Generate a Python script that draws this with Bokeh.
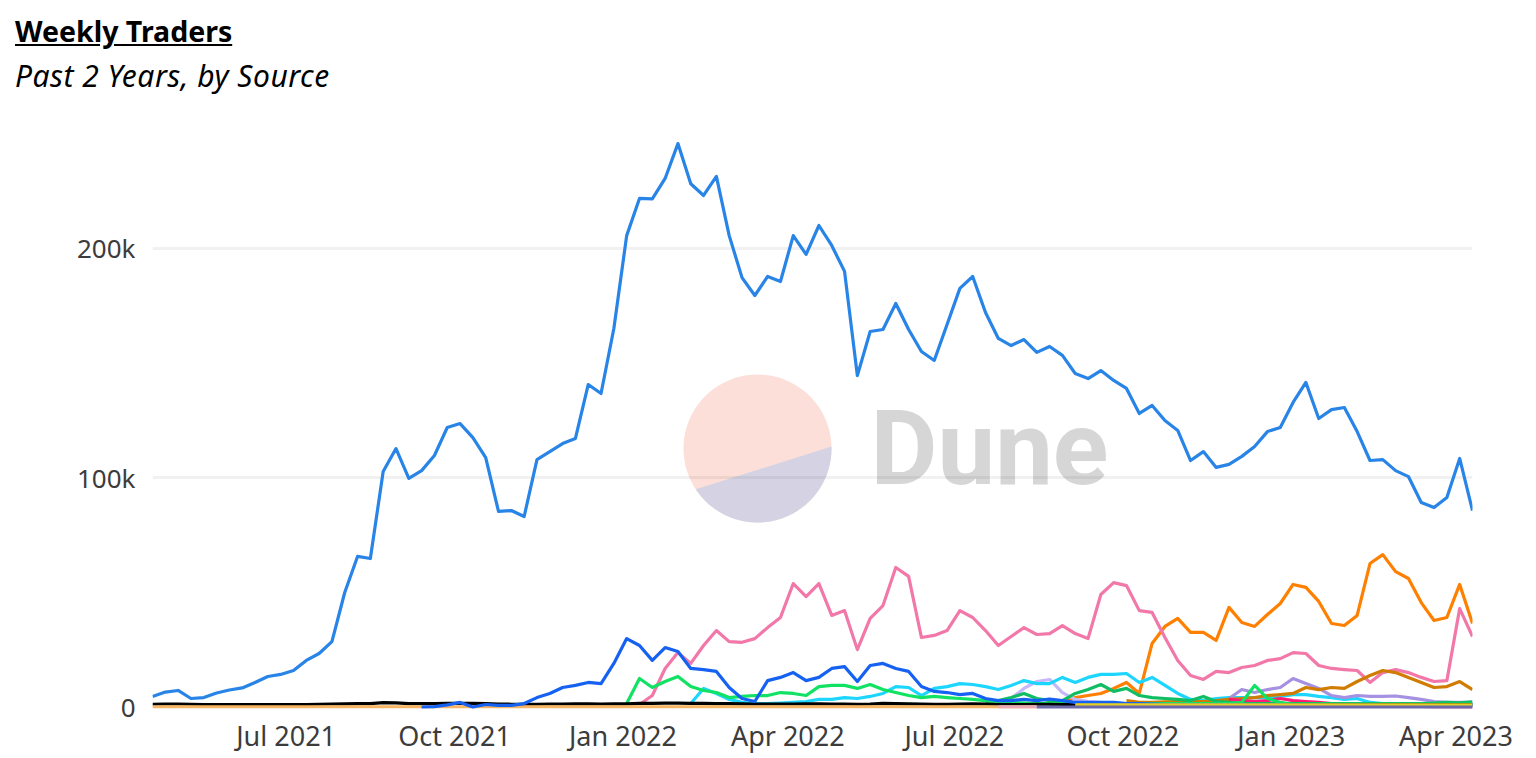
from datetime import datetime, timedelta
import numpy as np
from bokeh.embed import file_html
from bokeh.layouts import column
from bokeh.models import (ColumnDataSource, Div, FixedTicker, Label,
                          PolyAnnotation, Range1d)
from bokeh.plotting import figure
from bokeh.resources import INLINE

FONT = "Noto Sans"

title_text = "Weekly Traders"
subtitle_text = "Past 2 Years, by Source"
x_tick_dates = ["2021-07-01", "2021-10-01", "2022-01-01", "2022-04-01",
                "2022-07-01", "2022-10-01", "2023-01-01", "2023-04-01"]
x_tick_labels = ["Jul 2021", "Oct 2021", "Jan 2022", "Apr 2022",
                 "Jul 2022", "Oct 2022", "Jan 2023", "Apr 2023"]
y_tick_values = [0, 100000, 200000]
y_tick_labels = ["0", "100k", "200k"]
first_week = "2021-04-19"
n_weeks = 104

# Values in thousands of weekly traders; each series starts at a week index.
main_blue = [4.6, 6.5, 7.2, 3.7, 4.1, 6.1, 7.4, 8.3, 10.7, 13.3, 14.2, 15.9, 20.3, 23.3, 28.5, 49.9,
             65.6, 64.7, 102.6, 112.6, 99.6, 103, 109.6, 121.8, 123.5, 117.4, 108.7, 85.2, 85.6, 83,
             107.8, 111.3, 114.8, 117, 140.5, 136.6, 164.9, 205.4, 221.6, 221.4, 230.3, 245.5, 228,
             222.9, 231.2, 205.4, 187.1, 179.3, 187.6, 185.4, 205.4, 197.2, 209.8, 201.1, 189.8, 144.4,
             163.6, 164.5, 175.8, 164.5, 154.9, 151, 166.7, 182.4, 187.6, 171.9, 160.6, 157.5, 160.1,
             154.5, 157.1, 153.2, 145.3, 143.1, 146.6, 142.3, 138.8, 127.9, 131.4, 124.8, 120.5, 107.4,
             111.3, 104.4, 105.7, 109.2, 113.5, 120, 121.8, 132.7, 141.4, 125.7, 129.6, 130.5, 120,
             107.4, 107.8, 103, 100.4, 89.1, 86.9, 91.3, 108.3, 85.6]
pink_start = 38
pink = [1.1, 5, 16.8, 23.7, 19, 26.8, 33.3, 28.5, 28.2, 29.8, 34.6, 39, 53.8, 48.1, 53.8, 39.9, 42, 25,
        38.6, 44.2, 60.8, 56.9, 30.3, 31.2, 33.3, 42, 39, 33.3, 26.8, 30.7, 34.6, 31.6, 32, 35.5, 32,
        29.8, 49, 54.2, 52.9, 42, 41.2, 30.3, 20.3, 13.7, 12, 15.5, 15, 17.2, 18.1, 20.3, 21.1, 23.7,
        23.3, 18.1, 16.8, 16.3, 15.9, 10.7, 15, 16.3, 15, 12.9, 11.1, 11.5, 42.9, 30.7]
orange_start = 70
orange = [1, 2, 4.1, 5, 5.9, 8.1, 10.7, 5.9, 27.7, 35.1, 38.6, 32.5, 32.5, 29, 43.4, 36.8, 35.1, 40.3,
          45.1, 53.4, 52.1, 46, 36.4, 35.5, 39.9, 62.5, 66.4, 59, 56, 45.5, 37.7, 39, 53.4, 36.4]
brown_start = 76
brown = [2.8, 2, 2, 2.2, 2.4, 2.4, 2.4, 2.8, 3.3, 3.7, 4.1, 5, 5.4, 5.9, 8.5, 7.6, 8.5, 8.1, 11.1, 13.7,
         15.9, 15, 12.9, 10.7, 8.5, 8.9, 11.1, 7.6]
purple_start = 84
purple = [3.7, 7.6, 6.3, 7.6, 8.5, 12.4, 10.2, 8.1, 5, 4.1, 5, 4.6, 4.6, 4.8, 4.1, 3.3, 2.4, 2, 2, 2]
cyan_start = 42
cyan = [1.5, 8.1, 5.9, 3.3, 2, 1.5, 1.5, 1.7, 2, 2.4, 3.3, 3.3, 4.1, 3.7, 4.6, 5.9, 8.9, 8.5, 5, 8.1,
        8.9, 10.2, 9.8, 8.9, 7.6, 9.4, 11.5, 10.2, 10.2, 12.9, 10.7, 12.9, 14.2, 14.2, 14.6, 10.7,
        12.9, 9.4, 5.9, 3.3, 2.8, 3.7, 4.1, 4.1, 4.1, 4.1, 4.6, 5.4, 5.4, 4.6, 4.1, 3.3, 3.7, 2, 1.5,
        1.2, 1.2, 1, 1, 1, 1, 1]
royal_start = 21
royal = [0, 0.2, 0.9, 2, 0, 1.1, 0.7, 0.7, 1.5, 4.1, 5.9, 8.5, 9.4, 10.7, 10.2, 19, 29.8, 26.8, 20.3,
         25.9, 24.2, 16.8, 16.3, 15.5, 8.5, 3.7, 2.4, 11.5, 12.9, 15, 11.5, 12.9, 16.8, 17.6, 11.1,
         18.1, 19, 16.8, 15.5, 8.9, 6.8, 6.3, 5.4, 5.9, 3.7, 2.8, 2.8, 3.3, 2.8, 3.5, 2.8, 2, 2, 2, 2,
         1.5, 1.5, 1.3, 1.1, 1.1, 1.1, 1, 1, 1, 1, 1, 1, 1, 0.9, 0.9, 0.9, 0.8, 0.8, 0.8, 0.8, 0.7,
         0.7, 0.7, 0.7, 0.6, 0.6, 0.6, 0.6]
green_start = 37
green = [1.5, 12.4, 8.5, 11.1, 13.3, 8.9, 7.2, 6.3, 4.1, 4.6, 5, 5, 6.3, 5.9, 5, 8.9, 9.4, 9.4, 8.1,
         9.8, 7.6, 6.3, 5, 4.1, 4.6, 4.1, 3.7, 3.3, 2.8, 2.4, 2, 1.7, 1.5, 1.5, 1.5, 1.5, 1.5, 1.5,
         1.5, 1.5, 1.5, 1.5, 1.5, 1.5, 1.5, 1.5, 1.5, 1.5, 2, 9.4, 3.7, 2, 1.2, 1.2, 1.2, 1.2, 1.2,
         1.2, 1.2, 1.2, 1.2, 1.2, 1.2, 1.2, 1.2, 1.2, 1.2]
dark_green_start = 65
dark_green = [2.4, 2.8, 4.1, 5.9, 3.7, 2.8, 2.8, 5.9, 7.6, 9.8, 6.8, 8.1, 5, 4.1, 3.7, 3.3, 2.8, 4.6,
              2.4, 2, 1.5, 1.5, 1.5, 1.5, 1.5, 1.5, 1.5, 1.5, 1.5, 1.5, 1.5, 1.5, 1.5, 1.5, 1.5, 1.7,
              2, 1.8, 2.2]
lilac_start = 65
lilac = [2, 2.4, 3.7, 8.1, 11.1, 12, 6.3, 3.3, 2.4, 2, 1.8, 1.5, 1.2, 1]
hot_pink_start = 84
hot_pink = [3.3, 2.8, 2.4, 2.8, 3.7, 2.8, 2.4, 2, 1.5, 1.1, 0.8, 0.6, 0.5, 0.4, 0.3, 0.3, 0.2, 0.2, 0.2, 0.2]
black = [1.2, 1.3, 1.3, 1.2, 1.1, 1.1, 1.1, 1.1, 1.1, 1.1, 1.1, 1.1, 1.1, 1.2, 1.3, 1.4, 1.5, 1.5, 1.9,
         1.8, 1.5, 1.5, 1.5, 1.6, 1.6, 1.6, 1.5, 1.3, 1.2, 1.2, 1.2, 1.3, 1.3, 1.4, 1.4, 1.3, 1.4, 1.4,
         1.6, 1.6, 1.7, 1.7, 1.6, 1.6, 1.5, 1.5, 1.4, 1.3, 1.3, 1.3, 1.3, 1.4, 1.4, 1.3, 1.3, 1.2, 1.3,
         1.6, 1.5, 1.4, 1.3, 1.2, 1.2, 1.3, 1.4, 1.3, 1.1, 1.1, 1.1, 1.2, 1.2, 1.1, 1.1, 1.1, 1.2, 1.2,
         1.2, 1.1, 1.1, 1.1, 1.1, 1.1, 1.1, 1.1, 1.1, 1.1, 1.1, 1.1, 1.1, 1.1, 1.1, 1.1, 1.1, 1.1, 1.1,
         1.1, 1.1, 1.1, 1.1, 1.1, 1.1, 1.1, 1.1, 1.1]
amber = [0.1] * 70
pale_pink_start = 66
pale_pink = [0.1, 0.1, 0.1, 0.1]
yellow_start = 72
yellow = [0.9] * 32
slate_start = 69
slate = [0.0] * 35

series = [
    (main_blue, 0, "#2884e6"),
    (orange, orange_start, "#ff8000"),
    (pink, pink_start, "#f178a8"),
    (lilac, lilac_start, "#c4b8fb"),
    (cyan, cyan_start, "#1dd6ff"),
    (purple, purple_start, "#a590e2"),
    (brown, brown_start, "#d07c00"),
    (hot_pink, hot_pink_start, "#ff1a78"),
    (dark_green, dark_green_start, "#10bd62"),
    (green, green_start, "#12e264"),
    (black, 0, "#000000"),
    (amber, 0, "#f6b465"),
    (pale_pink, pale_pink_start, "#e8a8b8"),
    (royal, royal_start, "#1562f2"),
    (yellow, yellow_start, "#e8d020"),
    (slate, slate_start, "#6a68a8"),
]

t0 = datetime.fromisoformat(first_week)
weeks = [t0 + timedelta(days=7 * i) for i in range(n_weeks)]

W, H = 1530, 756
HEADER_H = 100
FRAME_L, FRAME_R, FRAME_T, FRAME_B = 152, 1472, 110, 715
ZERO_PY, PX_PER_K = 706.5, 2.295
x_start, x_end = weeks[0], weeks[-1]

header = Div(width=W, height=HEADER_H, margin=(0, 0, 0, 0),
             text=(f'<div style="font-family:\'{FONT}\';color:#000;padding-left:15px;padding-top:10px;white-space:nowrap">'
                   f'<div style="font-size:28.5px;font-weight:700;line-height:42px;text-decoration:underline">{title_text}</div>'
                   f'<div style="font-size:30px;letter-spacing:0.5px;font-style:italic;line-height:48px">{subtitle_text}</div>'
                   '</div>'))

p = figure(width=W, height=H - HEADER_H, output_backend="svg", toolbar_location=None,
           x_axis_type="datetime",
           x_range=Range1d(x_start, x_end),
           y_range=Range1d((ZERO_PY - FRAME_B) / PX_PER_K * 1000, (ZERO_PY - FRAME_T) / PX_PER_K * 1000),
           min_border_left=FRAME_L, min_border_right=W - FRAME_R,
           min_border_top=FRAME_T - HEADER_H, min_border_bottom=H - FRAME_B, margin=(0, 0, 0, 0))
p.outline_line_color = None
p.background_fill_color = "white"
p.xgrid.visible = False
p.ygrid.ticker = FixedTicker(ticks=[100000, 200000])
p.ygrid.grid_line_color = "#000000"
p.ygrid.grid_line_alpha = 0.055
p.ygrid.grid_line_width = 3

to_ms = lambda s: datetime.fromisoformat(s).replace(tzinfo=None)
epoch = datetime(1970, 1, 1)
tick_ms = [(to_ms(s) - epoch).total_seconds() * 1000 for s in x_tick_dates]
p.xaxis.ticker = FixedTicker(ticks=tick_ms)
p.xaxis.major_label_overrides = dict(zip(tick_ms, x_tick_labels))
p.yaxis.ticker = FixedTicker(ticks=y_tick_values)
p.yaxis.major_label_overrides = dict(zip(y_tick_values, y_tick_labels))
for ax in (p.xaxis[0], p.yaxis[0]):
    ax.axis_line_color = None
    ax.major_tick_line_color = None
    ax.minor_tick_line_color = None
    ax.major_tick_out = 0
    ax.major_tick_in = 0
    ax.major_label_text_font = FONT
    ax.major_label_text_color = "#3c3c3c"
p.xaxis[0].major_label_text_font_size = "27px"
p.yaxis[0].major_label_text_font_size = "26px"
p.xaxis[0].major_label_standoff = 1
p.yaxis[0].major_label_standoff = 17

ms0 = (x_start - epoch).total_seconds() * 1000
ms1 = (x_end - epoch).total_seconds() * 1000
def dx(px):
    return ms0 + (np.asarray(px, dtype=float) - FRAME_L) / (FRAME_R - FRAME_L) * (ms1 - ms0)
def dy(py):
    return (ZERO_PY - np.asarray(py, dtype=float)) / PX_PER_K * 1000

# Watermark (behind the lines)
CX, CY, R = 757.0, 448.0, 74.0
a = np.linspace(0, 2 * np.pi, 181)
p.add_layout(PolyAnnotation(xs=list(dx(CX + R * np.cos(a))), ys=list(dy(CY - R * np.sin(a))),
                            fill_color="#fcdfd8", fill_alpha=1, line_color=None, level="image"))
a = np.radians(np.linspace(213.5, 361.5, 100))
p.add_layout(PolyAnnotation(xs=list(dx(CX + R * np.cos(a))), ys=list(dy(CY - R * np.sin(a))),
                            fill_color="#d5d3e3", fill_alpha=1, line_color=None, level="image"))
p.add_layout(Label(x=float(dx(870)), y=float(dy(448)), text="Dune", text_font="Roboto",
                   text_font_style="bold", text_font_size="103px", text_color="#d6d6d6",
                   text_baseline="middle", level="image"))

for values, start, color in series:
    src = ColumnDataSource(dict(week=weeks[start:start + len(values)],
                                traders=[v * 1000 for v in values]))
    p.line("week", "traders", source=src, line_color=color, line_width=3.2, line_join="round")

layout = column(header, p, spacing=0, margin=(0, 0, 0, 0))
open("out.html", "w").write(file_html(layout, INLINE))
